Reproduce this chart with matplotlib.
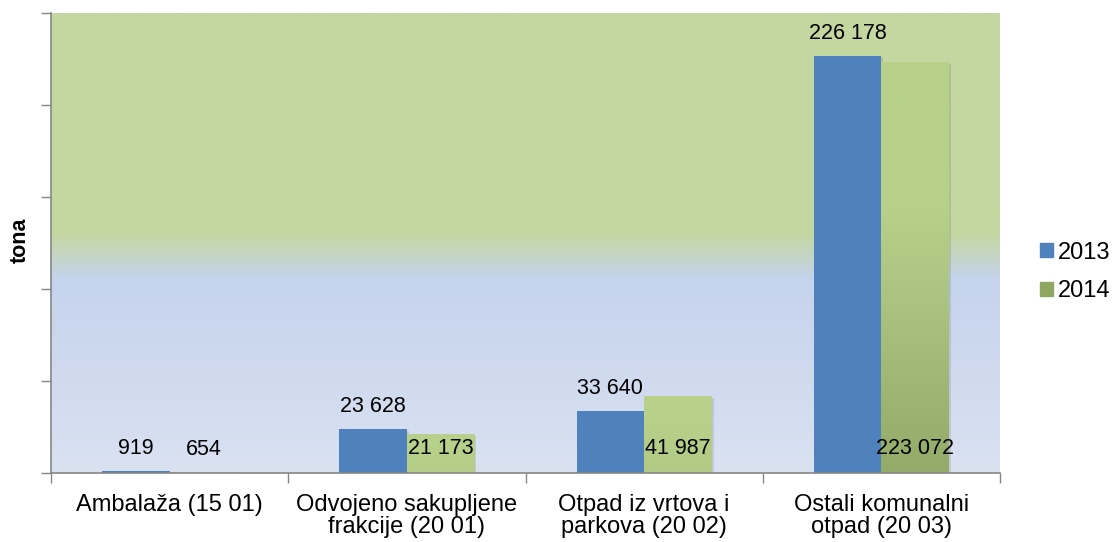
import numpy as np
import matplotlib
matplotlib.use("Agg")
import matplotlib.pyplot as plt
from matplotlib.patches import Rectangle
import matplotlib.transforms as mtransforms

plt.rcParams['font.family'] = ['Liberation Sans', 'DejaVu Sans']

categories = ["Ambalaža (15 01)", "Odvojeno sakupljene\nfrakcije (20 01)",
              "Otpad iz vrtova i\nparkova (20 02)", "Ostali komunalni\notpad (20 03)"]
series_names = ["2013", "2014"]
values_2013 = [919, 23628, 33640, 226178]
values_2014 = [654, 21173, 41987, 223072]
y_ticks = [0, 50000, 100000, 150000, 200000, 250000]

def fmt(v):
    return f"{v:,}".replace(",", " ")

W, H = 1114, 542
fig = plt.figure(figsize=(W / 100, H / 100), dpi=100)
ax = fig.add_axes([51 / W, (H - 473) / H, (1000 - 51) / W, (473 - 12.5) / H])

# background gradient
n = 400
t = np.linspace(0, 1, n)  # 0 = top, 1 = bottom
green = np.array([196, 215, 160]) / 255
blue_top = np.array([197, 211, 236]) / 255
blue_bot = np.array([218, 226, 242]) / 255
img = np.zeros((n, 1, 3))
for i, ti in enumerate(t):
    if ti < 0.48:
        c = green
    elif ti < 0.58:
        f = (ti - 0.48) / 0.10
        c = green * (1 - f) + blue_top * f
    else:
        f = (ti - 0.58) / 0.42
        c = blue_top * (1 - f) + blue_bot * f
    img[i, 0] = c
ax.imshow(img, extent=[0, 1, 0, 1], transform=ax.transAxes, aspect='auto', zorder=0)

ymax = 250000
ax.set_xlim(-0.5, 3.5)
ax.set_ylim(0, ymax)

x = np.arange(len(categories))
bw = 0.285
blue = '#4F81BD'
light_g = np.array([183, 209, 139]) / 255
dark_g = np.array([143, 166, 101]) / 255

shadow_off = mtransforms.ScaledTranslation(2 / 100, -2 / 100, fig.dpi_scale_trans)

bars1 = ax.bar(x - bw / 2, values_2013, bw, color=blue, zorder=3)
bars2 = ax.bar(x + bw / 2, values_2014, bw, color=tuple(light_g), zorder=3)

# shadows
for b in list(bars1) + list(bars2):
    r = Rectangle((b.get_x(), b.get_y()), b.get_width(), b.get_height(),
                  facecolor='black', alpha=0.10, edgecolor='none',
                  transform=ax.transData + shadow_off, zorder=2)
    ax.add_patch(r)

# gradient for 2014 bars
for b, v in zip(bars2, values_2014):
    m = 200
    tt = np.linspace(0, 1, m)  # 0 = top, 1 = bottom
    strength = v / ymax
    g = np.clip((tt - 0.35) / 0.65, 0, 1) * strength
    gi = np.zeros((m, 1, 3))
    for i in range(m):
        gi[i, 0] = light_g * (1 - g[i]) + dark_g * g[i]
    im = ax.imshow(gi, extent=[b.get_x(), b.get_x() + b.get_width(), 0, v],
                   aspect='auto', zorder=3.5)
    im.set_clip_path(b)

# value labels
fs = 15.5
for b, v in zip(bars1, values_2013):
    ax.annotate(fmt(v), (b.get_x() + b.get_width() / 2, v), xytext=(0, 23),
                textcoords='offset pixels', ha='center', va='center', fontsize=fs, zorder=5)
for b, v in zip(bars2, values_2014):
    if v < 5000:
        ax.annotate(fmt(v), (b.get_x() + b.get_width() / 2, v), xytext=(0, 22),
                    textcoords='offset pixels', ha='center', va='center', fontsize=fs, zorder=5)
    else:
        ax.annotate(fmt(v), (b.get_x() + b.get_width() / 2, 0), xytext=(0, 24),
                    textcoords='offset pixels', ha='center', va='center', fontsize=fs, zorder=5)

# axes styling
for s in ['top', 'right']:
    ax.spines[s].set_visible(False)
for s in ['left', 'bottom']:
    ax.spines[s].set_color('#868686')
    ax.spines[s].set_linewidth(1.2)
    ax.spines[s].set_zorder(6)

ax.set_yticks(y_ticks)
ax.set_yticklabels([])
ax.tick_params(axis='y', length=7, color='#868686', direction='out', width=1)

cfs = 17
ax.set_xticks(x)
ax.set_xticklabels(categories, fontsize=cfs, linespacing=1.0)
ax.tick_params(axis='x', length=0, pad=15)
ax.set_xticks(np.arange(-0.5, 4, 1), minor=True)
ax.tick_params(axis='x', which='minor', length=7, color='#868686', width=1)

fig.text(20 / W, 1 - 240 / H, 'tona', rotation=90, fontsize=fs, fontweight='bold',
         ha='center', va='center')

legend_handles = [Rectangle((0, 0), 1, 1, color=blue),
                  Rectangle((0, 0), 1, 1, color='#8EA864')]
fig.legend(legend_handles, series_names, loc='center left',
           bbox_to_anchor=(1040 / W, 1 - 272 / H), frameon=False, fontsize=cfs,
           borderpad=0, borderaxespad=0,
           handlelength=0.55, handleheight=0.55, handletextpad=0.2, labelspacing=0.7)

fig.savefig('out.png', dpi=100)
